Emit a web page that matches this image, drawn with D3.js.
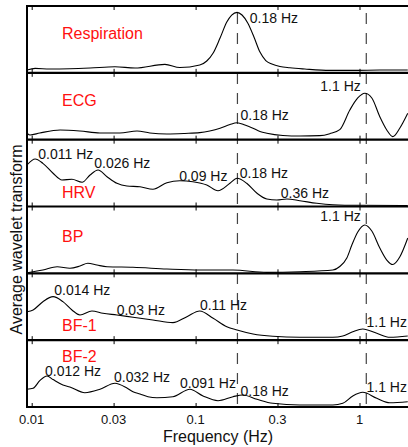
<!DOCTYPE html>
<html>
<head>
<meta charset="utf-8">
<script src="https://cdn.jsdelivr.net/npm/d3@7"></script>
<style>
body { margin: 0; background: #fff; }
text { font-family: "Liberation Sans", Arial, sans-serif; }
</style>
</head>
<body>
<svg id="chart" width="408" height="447"></svg>
<script>
// tick positions (half decades) and their printed labels
var tickValues = [0.01, 0.0316, 0.1, 0.316, 1];
var tickLabels = ["0.01", "0.03", "0.1", "0.3", "1"];
var markFreqs = [0.18, 1.1];

var panelNames = ["Respiration", "ECG", "HRV", "BP", "BF-1", "BF-2"];
var nameLevels = [0.506, 0.504, 0.123, 0.473, 0.138, 0.678];

// [frequency (Hz), average wavelet amplitude (normalised)]
var respiration = [[0.00936,0.042],[0.0105,0.067],[0.0129,0.057],[0.0171,0.061],[0.0227,0.072],[0.0322,0.091],
  [0.0427,0.072],[0.065,0.127],[0.0802,0.079],[0.106,0.117],[0.117,0.177],[0.128,0.296],[0.141,0.52],[0.155,0.76],
  [0.166,0.865],[0.179,0.905],[0.192,0.865],[0.208,0.745],[0.227,0.536],[0.247,0.31],[0.268,0.184],[0.292,0.132],
  [0.327,0.094],[0.376,0.075],[0.464,0.057],[0.659,0.037],[0.936,0.037],[1.33,0.042],[1.97,0.042]];
var ecg = [[0.00936,0.096],[0.00976,0.07],[0.0112,0.1],[0.0149,0.145],[0.0197,0.13],[0.0261,0.1],[0.0345,0.1],
  [0.0439,0.13],[0.0526,0.1],[0.0668,0.085],[0.086,0.093],[0.106,0.105],[0.122,0.13],[0.141,0.171],[0.162,0.227],
  [0.179,0.254],[0.2,0.22],[0.224,0.171],[0.247,0.123],[0.272,0.096],[0.341,0.063],[0.433,0.055],[0.573,0.06],
  [0.659,0.09],[0.758,0.15],[0.873,0.444],[0.976,0.624],[1.077,0.694],[1.189,0.624],[1.33,0.344],[1.467,0.145],
  [1.596,0.045],[1.76,0.171],[1.97,0.395]];
var hrv = [[0.00936,0.621],[0.0105,0.711],[0.0117,0.646],[0.0135,0.497],[0.0153,0.397],[0.0176,0.407],[0.0203,0.362],
  [0.0227,0.471],[0.0254,0.546],[0.0288,0.446],[0.0331,0.347],[0.0381,0.307],[0.0458,0.296],[0.0549,0.257],
  [0.0668,0.356],[0.0802,0.386],[0.0963,0.371],[0.117,0.322],[0.137,0.236],[0.162,0.347],[0.179,0.422],[0.205,0.347],
  [0.237,0.198],[0.272,0.112],[0.313,0.097],[0.36,0.112],[0.433,0.087],[0.549,0.048],[0.688,0.027],[1.004,0.018],
  [1.97,0.015]];
var bp = [[0.00936,0.009],[0.0102,0.024],[0.0117,0.049],[0.0143,0.099],[0.0171,0.075],[0.0197,0.109],[0.022,0.15],
  [0.025,0.124],[0.0288,0.099],[0.0415,0.09],[0.0668,0.064],[0.106,0.049],[0.169,0.049],[0.272,0.015],[0.433,0.024],
  [0.688,0.049],[0.758,0.102],[0.837,0.229],[0.898,0.423],[0.976,0.618],[1.077,0.723],[1.189,0.633],[1.33,0.379],
  [1.467,0.199],[1.596,0.132],[1.76,0.244],[1.97,0.528]];
var bf1 = [[0.00936,0.426],[0.0102,0.452],[0.0117,0.576],[0.0135,0.651],[0.0155,0.576],[0.0176,0.452],[0.0197,0.377],
  [0.0233,0.437],[0.0272,0.403],[0.0331,0.377],[0.0415,0.343],[0.0549,0.302],[0.0727,0.262],[0.0885,0.352],
  [0.106,0.437],[0.128,0.328],[0.155,0.202],[0.179,0.153],[0.224,0.093],[0.296,0.058],[0.433,0.043],[0.688,0.043],
  [0.791,0.063],[0.91,0.127],[1.047,0.168],[1.275,0.103],[1.531,0.043],[1.97,0.063]];
var bf2 = [[0.00936,0.265],[0.0102,0.28],[0.0112,0.394],[0.0124,0.464],[0.0135,0.41],[0.0155,0.33],[0.0171,0.3],
  [0.0211,0.214],[0.0261,0.265],[0.0322,0.355],[0.0381,0.284],[0.0415,0.229],[0.0458,0.195],[0.0512,0.154],
  [0.0581,0.139],[0.0727,0.154],[0.0923,0.265],[0.111,0.165],[0.137,0.094],[0.169,0.154],[0.194,0.18],[0.237,0.115],
  [0.296,0.055],[0.433,0.03],[0.688,0.03],[0.791,0.055],[0.91,0.165],[1.047,0.22],[1.275,0.13],[1.531,0.064],
  [1.97,0.079]];

// peak annotations: text, frequency, level, anchor
var respNotes = [["0.18 Hz", 0.214, 0.741, "start"]];
var ecgNotes = [["1.1 Hz", 1.018, 0.733, "end"], ["0.18 Hz", 0.188, 0.295, "start"]];
var hrvNotes = [["0.011 Hz", 0.01097, 0.706, "start"], ["0.026 Hz", 0.0241, 0.572, "start"],
  ["0.09 Hz", 0.0794, 0.386, "start"], ["0.18 Hz", 0.186, 0.422, "start"], ["0.36 Hz", 0.331, 0.132, "start"]];
var bpNotes = [["1.1 Hz", 1.018, 0.787, "end"]];
var bf1Notes = [["0.014 Hz", 0.01373, 0.676, "start"], ["0.03 Hz", 0.033, 0.377, "start"],
  ["0.11 Hz", 0.1062, 0.452, "start"], ["1.1 Hz", 1.103, 0.193, "start"]];
var bf2Notes = [["0.012 Hz", 0.01205, 0.464, "start"], ["0.032 Hz", 0.03176, 0.379, "start"],
  ["0.091 Hz", 0.0802, 0.28, "start"], ["0.18 Hz", 0.188, 0.169, "start"], ["1.1 Hz", 1.103, 0.229, "start"]];

var series = [respiration, ecg, hrv, bp, bf1, bf2];
var notes = [respNotes, ecgNotes, hrvNotes, bpNotes, bf1Notes, bf2Notes];

var svg = d3.select("#chart"),
    width = +svg.attr("width");

var plotLeft = 27, plotTop = 6, plotBottom = 407;
var panelH = (plotBottom - plotTop) / series.length;

var x = d3.scaleLog()
  .domain([0.01, 1])
  .range([31.7, 359.5]);

var line = d3.line()
  .x(function(d) { return x(d[0]); })
  .curve(d3.curveMonotoneX);

svg.append("clipPath").attr("id", "clip")
  .append("rect").attr("x", plotLeft).attr("y", plotTop)
  .attr("width", width - plotLeft).attr("height", plotBottom - plotTop);

// dashed markers behind everything
svg.selectAll(".mark")
  .data(markFreqs)
  .enter().append("line")
    .attr("x1", function(d) { return x(d); })
    .attr("x2", function(d) { return x(d); })
    .attr("y1", 13)
    .attr("y2", plotBottom - 2)
    .attr("stroke", "#444")
    .attr("stroke-width", 1.2)
    .attr("stroke-dasharray", "11,9");

series.forEach(function(data, i) {
  var t = plotTop + i * panelH, b = t + panelH;
  var y = d3.scaleLinear().domain([0, 1]).range([b, t]);
  var g = svg.append("g");

  // ticks pointing in from both panel edges
  g.append("g")
    .attr("transform", "translate(0," + t + ")")
    .call(d3.axisBottom(x).tickValues(tickValues).tickSize(4).tickFormat(""))
    .call(function(a) { a.select(".domain").remove(); a.selectAll("line").attr("stroke-width", 1); });
  g.append("g")
    .attr("transform", "translate(0," + b + ")")
    .call(d3.axisTop(x).tickValues(tickValues).tickSize(4).tickFormat(""))
    .call(function(a) { a.select(".domain").remove(); a.selectAll("line").attr("stroke-width", 1); });

  g.append("path")
    .datum(data)
    .attr("clip-path", "url(#clip)")
    .attr("fill", "none")
    .attr("stroke", "#000")
    .attr("stroke-width", 1.1)
    .attr("d", line.y(function(d) { return y(d[1]); }));

  g.append("text")
    .attr("x", x(0.0153))
    .attr("y", y(nameLevels[i]))
    .attr("fill", "#ff1010")
    .attr("font-size", 16)
    .text(panelNames[i]);

  g.selectAll(".note")
    .data(notes[i])
    .enter().append("text")
      .attr("x", function(d) { return x(d[1]); })
      .attr("y", function(d) { return y(d[2]); })
      .attr("text-anchor", function(d) { return d[3]; })
      .attr("font-size", 14)
      .attr("fill", "#111")
      .text(function(d) { return d[0]; });
});

// panel borders
var edges = d3.range(series.length + 1).map(function(i) { return plotTop + i * panelH; });
svg.selectAll(".edge")
  .data(edges)
  .enter().append("line")
    .attr("x1", plotLeft).attr("x2", width)
    .attr("y1", function(d) { return d; })
    .attr("y2", function(d) { return d; })
    .attr("stroke", "#000")
    .attr("stroke-width", 2.2);
svg.append("line")
  .attr("x1", plotLeft).attr("x2", plotLeft)
  .attr("y1", plotTop - 1).attr("y2", plotBottom + 1)
  .attr("stroke", "#000")
  .attr("stroke-width", 2);

// bottom tick labels
svg.selectAll(".tlab")
  .data(tickValues)
  .enter().append("text")
    .attr("x", function(d) { return x(d); })
    .attr("y", 424)
    .attr("text-anchor", "middle")
    .attr("font-size", 13)
    .attr("fill", "#111")
    .text(function(d, i) { return tickLabels[i]; });

svg.append("text")
  .attr("x", 218)
  .attr("y", 441.5)
  .attr("text-anchor", "middle")
  .attr("font-size", 16)
  .attr("fill", "#111")
  .text("Frequency (Hz)");

svg.append("text")
  .attr("transform", "translate(21.5,239.5) rotate(-90)")
  .attr("text-anchor", "middle")
  .attr("font-size", 16)
  .attr("fill", "#111")
  .text("Average wavelet transform");
</script>
</body>
</html>
